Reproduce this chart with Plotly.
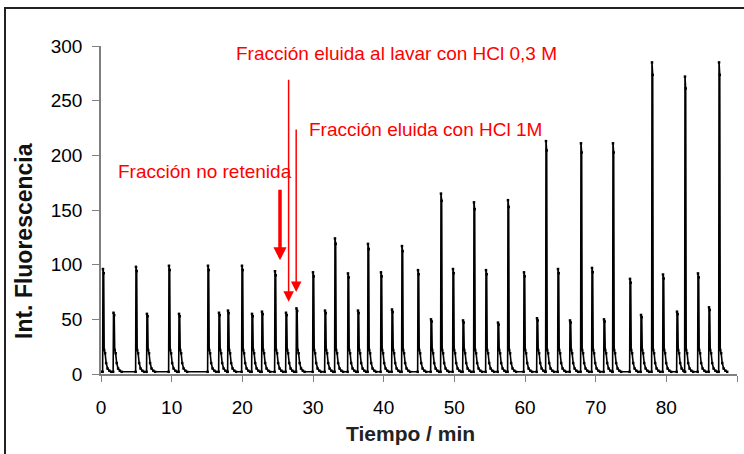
import plotly.graph_objects as go

# ---- data ----
peak_times = [0.28, 1.77, 4.95, 6.5, 9.62, 11.04, 15.14, 16.7, 17.97, 19.95,
              21.37, 22.78, 24.62, 26.18, 27.66, 30.0, 31.7, 33.11, 34.95, 36.37,
              37.78, 39.62, 41.18, 42.59, 44.86, 46.7, 48.11, 49.81, 51.23, 52.78,
              54.48, 56.18, 57.59, 59.86, 61.7, 62.97, 64.67, 66.37, 67.92, 69.48,
              71.18, 72.45, 74.86, 76.42, 77.97, 79.53, 81.51, 82.64, 84.48, 86.04,
              87.46]
peak_heights = [96, 56, 98, 55, 99, 55, 99, 56, 58, 99,
                55, 57, 94, 56, 60, 93, 58, 124, 92, 58,
                119, 93, 59, 117, 95, 50, 165, 96, 49, 157,
                95, 47, 159, 93, 51, 213, 96, 49, 211, 97,
                50, 211, 87, 54, 285, 91, 57, 272, 92, 61,
                285]
# shape of one peak: time offsets (min) and levels
apex_offsets = [-0.05, 0.0, 0.1]
apex_fracs = [None, 1.0, 0.96]          # None = baseline level
tail_offsets = [0.17, 0.3, 0.45, 0.65, 0.9, 1.15]
tail_levels = [22, 19, 10, 5, 3, 2]
baseline = 2

x_ticks = [0, 10, 20, 30, 40, 50, 60, 70, 80, 90]
y_ticks = [0, 50, 100, 150, 200, 250, 300]

labels = ["Fracción eluida al lavar con HCl 0,3 M",
          "Fracción eluida con HCl 1M",
          "Fracción no retenida"]

# ---- build the trace ----
xs, ys = [0.0], [baseline]
for t, h in zip(peak_times, peak_heights):
    for dt, f in zip(apex_offsets, apex_fracs):
        xs.append(t + dt)
        ys.append(baseline if f is None else h * f)
    for dt, lv in zip(tail_offsets, tail_levels):
        xs.append(t + dt)
        ys.append(lv)

FONT = "Liberation Sans, Arial, sans-serif"
RED = "#ff0000"

fig = go.Figure()
fig.add_trace(go.Scatter(
    x=xs, y=ys, mode="lines+markers",
    line=dict(color="black", width=1.6),
    marker=dict(color="black", size=2.5, symbol="square"),
    hoverinfo="skip", showlegend=False))

fig.update_layout(
    width=744, height=454,
    margin=dict(l=101, r=7, t=46, b=80),
    paper_bgcolor="white", plot_bgcolor="white",
    font=dict(family=FONT, size=19, color="black"),
    xaxis=dict(range=[0, 90], tickvals=x_ticks, showgrid=False, zeroline=False,
               showline=True, linecolor="#808080", linewidth=1.5,
               ticks="outside", ticklen=6, tickcolor="#808080", tickwidth=1.2,
               ticklabelstandoff=9, tickfont=dict(size=19)),
    yaxis=dict(range=[0, 300], tickvals=y_ticks, showgrid=False, zeroline=False,
               showline=True, linecolor="#808080", linewidth=1.5,
               ticks="outside", ticklen=7, tickcolor="#808080", tickwidth=1.2,
               ticklabelstandoff=6, tickfont=dict(size=19)),
)

# frame around the figure
fig.add_shape(type="rect", xref="paper", yref="paper",
              x0=(5 - 101) / 636, x1=(760 - 101) / 636,
              y0=(374 - 470) / 328, y1=(374 - 8) / 328,
              line=dict(color="#222222", width=2), layer="below")

# axis titles
fig.add_annotation(text="<b>Int. Fluorescencia</b>", xref="paper", yref="paper",
                   x=(24 - 101) / 636, y=(374 - 241) / 328, textangle=-90,
                   showarrow=False, xanchor="center", yanchor="middle",
                   font=dict(size=23, color="#111111", family=FONT))
fig.add_annotation(text="<b>Tiempo / min</b>", xref="paper", yref="paper",
                   x=(410 - 101) / 636, y=(374 - 433) / 328,
                   showarrow=False, xanchor="center", yanchor="middle",
                   font=dict(size=21, color="#222222", family=FONT))

# red labels (data coordinates)
label_pos = [(18.8, 293.5), (29.15, 224.0), (2.1, 185.0)]
for txt, (lx, ly) in zip(labels, label_pos):
    fig.add_annotation(text=txt, x=lx, y=ly, xref="x", yref="y",
                       showarrow=False, xanchor="left", yanchor="middle",
                       font=dict(size=19, color=RED, family=FONT))

# arrows: (x, y_start, y_tip, width, size)
arrows = [(25.33, 170.0, 104.0, 3.5, 0.75),
          (26.55, 270.5, 66.0, 1.5, 1.4),
          (27.62, 225.0, 75.0, 1.5, 1.4)]
for ax_, y0, y1, w, s in arrows:
    fig.add_annotation(x=ax_, y=y1, ax=ax_, ay=y0, xref="x", yref="y",
                       axref="x", ayref="y", text="", showarrow=True,
                       arrowhead=2, arrowwidth=w, arrowsize=s, arrowcolor=RED)

fig.write_html("out.html")
